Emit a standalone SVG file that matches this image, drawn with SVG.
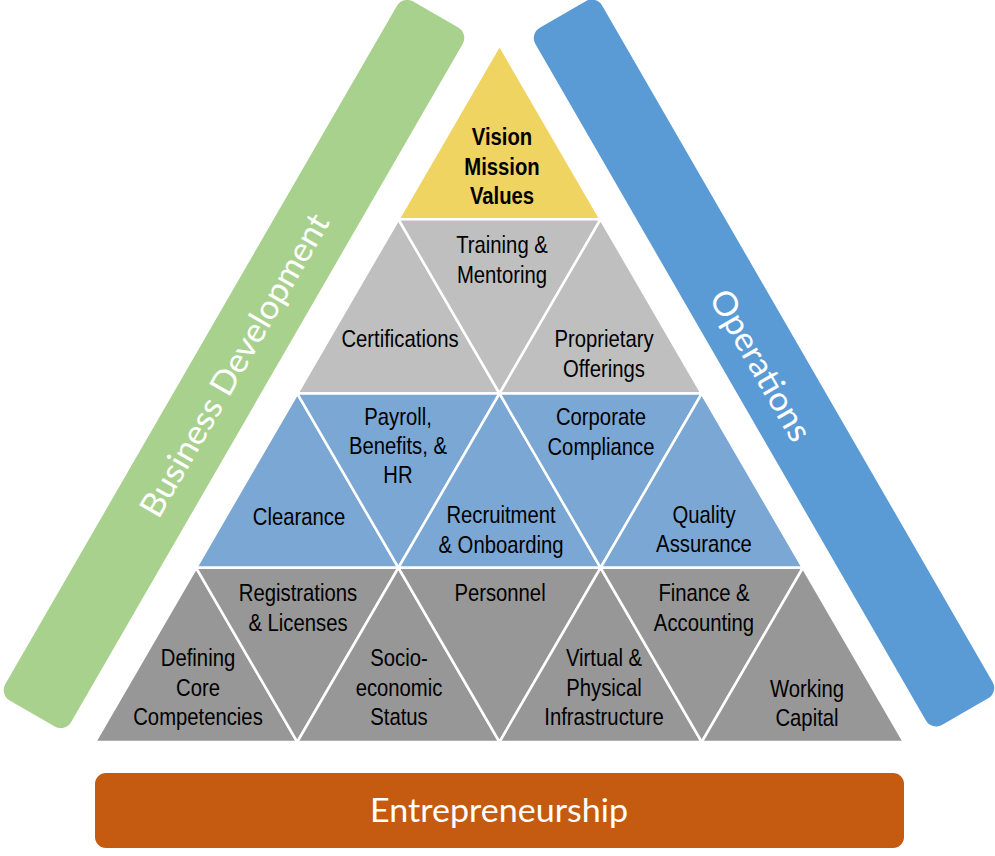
<svg xmlns="http://www.w3.org/2000/svg" width="995" height="856" viewBox="0 0 995 856">
  <style>
    .tri { stroke: #FFFFFF; stroke-width: 2.5; stroke-linejoin: miter; }
    .yel { fill: #EFD462; }
    .g1 { fill: #BFBFBF; }
    .bl { fill: #7BA7D4; }
    .g2 { fill: #979797; }
    .lbl { font-family: "Liberation Sans", Arial, sans-serif; font-size: 24px; fill: #000000; text-anchor: middle; }
    .bold { font-weight: bold; }
    .bar { font-family: Lato, "Open Sans", "Noto Sans", sans-serif; fill: #FFFFFF; text-anchor: middle; }
  </style>
  <rect width="995" height="856" fill="#FFFFFF"/>

  <g id="business-development">
    <rect x="-38" y="-403.5" width="76" height="807" rx="12" fill="#A9D18E" transform="translate(234,364) rotate(30)"/>
    <text class="bar" font-size="33.5" textLength="344" lengthAdjust="spacingAndGlyphs" transform="translate(234,365) rotate(-60)" x="0" y="12">Business Development</text>
  </g>

  <g id="operations">
    <rect x="-38.5" y="-402.5" width="77" height="805" rx="12" fill="#5B9BD5" transform="translate(764,363) rotate(-30)"/>
    <text class="bar" font-size="33.5" textLength="169" lengthAdjust="spacingAndGlyphs" transform="translate(761,365) rotate(60)" x="0" y="12">Operations</text>
  </g>

  <g id="entrepreneurship">
    <rect x="95" y="773" width="809" height="75" rx="11" fill="#C55A11"/>
    <text class="bar" font-size="32" x="499" y="822" textLength="258" lengthAdjust="spacingAndGlyphs">Entrepreneurship</text>
  </g>

  <g id="vision">
    <polygon class="tri yel" points="499.5,45 600.6,219.25 398.4,219.25"/>
    <text class="lbl bold" transform="matrix(0.845 0 0 1 502 0)" y="145">Vision</text>
    <text class="lbl bold" transform="matrix(0.845 0 0 1 502 0)" y="175">Mission</text>
    <text class="lbl bold" transform="matrix(0.845 0 0 1 502 0)" y="204">Values</text>
  </g>

  <g id="certifications">
    <polygon class="tri g1" points="398.4,219.25 499.5,393.5 297.25,393.5"/>
    <text class="lbl" transform="matrix(0.845 0 0 1 400 0)" y="347">Certifications</text>
  </g>
  <g id="training">
    <polygon class="tri g1" points="398.4,219.25 600.6,219.25 499.5,393.5"/>
    <text class="lbl" transform="matrix(0.845 0 0 1 502 0)" y="253">Training &amp;</text>
    <text class="lbl" transform="matrix(0.845 0 0 1 502 0)" y="283">Mentoring</text>
  </g>
  <g id="proprietary">
    <polygon class="tri g1" points="600.6,219.25 701.75,393.5 499.5,393.5"/>
    <text class="lbl" transform="matrix(0.845 0 0 1 604 0)" y="347">Proprietary</text>
    <text class="lbl" transform="matrix(0.845 0 0 1 604 0)" y="377">Offerings</text>
  </g>

  <g id="clearance">
    <polygon class="tri bl" points="297.25,393.5 398.4,567.75 196.1,567.75"/>
    <text class="lbl" transform="matrix(0.845 0 0 1 299 0)" y="525">Clearance</text>
  </g>
  <g id="payroll">
    <polygon class="tri bl" points="297.25,393.5 499.5,393.5 398.4,567.75"/>
    <text class="lbl" transform="matrix(0.845 0 0 1 398 0)" y="425">Payroll,</text>
    <text class="lbl" transform="matrix(0.845 0 0 1 398 0)" y="454">Benefits, &amp;</text>
    <text class="lbl" transform="matrix(0.845 0 0 1 398 0)" y="483">HR</text>
  </g>
  <g id="recruitment">
    <polygon class="tri bl" points="499.5,393.5 600.6,567.75 398.4,567.75"/>
    <text class="lbl" transform="matrix(0.845 0 0 1 501 0)" y="523">Recruitment</text>
    <text class="lbl" transform="matrix(0.845 0 0 1 501 0)" y="553">&amp; Onboarding</text>
  </g>
  <g id="compliance">
    <polygon class="tri bl" points="499.5,393.5 701.75,393.5 600.6,567.75"/>
    <text class="lbl" transform="matrix(0.845 0 0 1 601 0)" y="425">Corporate</text>
    <text class="lbl" transform="matrix(0.845 0 0 1 601 0)" y="455">Compliance</text>
  </g>
  <g id="quality">
    <polygon class="tri bl" points="701.75,393.5 802.9,567.75 600.6,567.75"/>
    <text class="lbl" transform="matrix(0.845 0 0 1 704 0)" y="523">Quality</text>
    <text class="lbl" transform="matrix(0.845 0 0 1 704 0)" y="552">Assurance</text>
  </g>

  <g id="defining">
    <polygon class="tri g2" points="196.1,567.75 297.25,742 95,742"/>
    <text class="lbl" transform="matrix(0.845 0 0 1 198 0)" y="666">Defining</text>
    <text class="lbl" transform="matrix(0.845 0 0 1 198 0)" y="696">Core</text>
    <text class="lbl" transform="matrix(0.845 0 0 1 198 0)" y="725">Competencies</text>
  </g>
  <g id="registrations">
    <polygon class="tri g2" points="196.1,567.75 398.4,567.75 297.25,742"/>
    <text class="lbl" transform="matrix(0.845 0 0 1 298 0)" y="601">Registrations</text>
    <text class="lbl" transform="matrix(0.845 0 0 1 298 0)" y="631">&amp; Licenses</text>
  </g>
  <g id="socioeconomic">
    <polygon class="tri g2" points="398.4,567.75 499.5,742 297.25,742"/>
    <text class="lbl" transform="matrix(0.845 0 0 1 399 0)" y="666">Socio-</text>
    <text class="lbl" transform="matrix(0.845 0 0 1 399 0)" y="696">economic</text>
    <text class="lbl" transform="matrix(0.845 0 0 1 399 0)" y="725">Status</text>
  </g>
  <g id="personnel">
    <polygon class="tri g2" points="398.4,567.75 600.6,567.75 499.5,742"/>
    <text class="lbl" transform="matrix(0.845 0 0 1 500 0)" y="601">Personnel</text>
  </g>
  <g id="infrastructure">
    <polygon class="tri g2" points="600.6,567.75 701.75,742 499.5,742"/>
    <text class="lbl" transform="matrix(0.845 0 0 1 604 0)" y="666">Virtual &amp;</text>
    <text class="lbl" transform="matrix(0.845 0 0 1 604 0)" y="696">Physical</text>
    <text class="lbl" transform="matrix(0.845 0 0 1 604 0)" y="725">Infrastructure</text>
  </g>
  <g id="finance">
    <polygon class="tri g2" points="600.6,567.75 802.9,567.75 701.75,742"/>
    <text class="lbl" transform="matrix(0.845 0 0 1 704 0)" y="601">Finance &amp;</text>
    <text class="lbl" transform="matrix(0.845 0 0 1 704 0)" y="631">Accounting</text>
  </g>
  <g id="working-capital">
    <polygon class="tri g2" points="802.9,567.75 904,742 701.75,742"/>
    <text class="lbl" transform="matrix(0.845 0 0 1 807 0)" y="697">Working</text>
    <text class="lbl" transform="matrix(0.845 0 0 1 807 0)" y="726">Capital</text>
  </g>

  <g id="connectors"/>
</svg>
